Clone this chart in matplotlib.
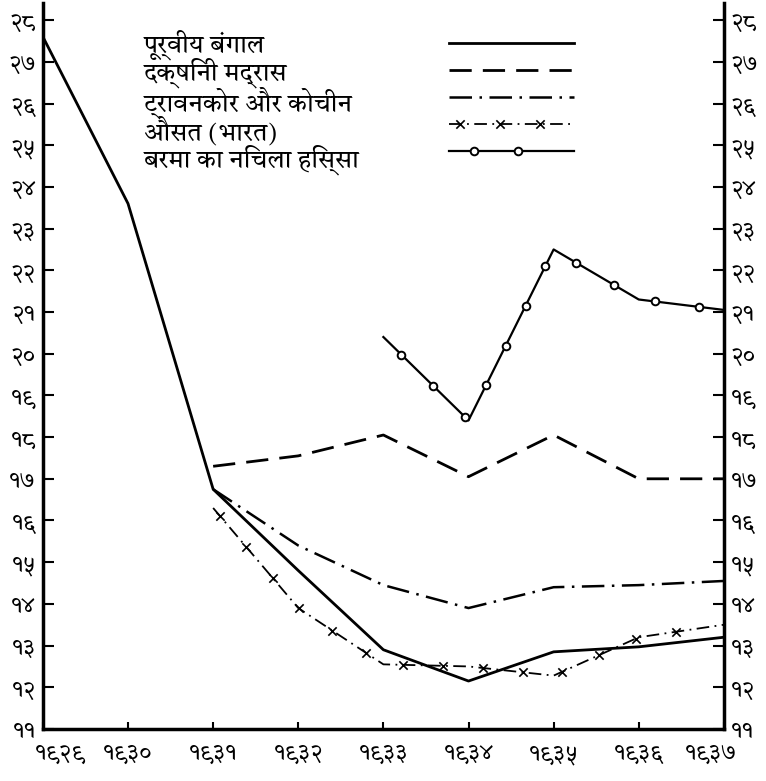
import matplotlib
matplotlib.use("Agg")
import numpy as np
import matplotlib.pyplot as plt
import matplotlib.patheffects as pe
from matplotlib.markers import MarkerStyle
from matplotlib.path import Path
from matplotlib.transforms import Affine2D, IdentityTransform, ScaledTranslation
import matplotlib.colors as mcolors

plt.rcParams['font.family'] = ['Tiro Devanagari Hindi', 'Noto Sans Devanagari', 'DejaVu Sans']

years = [1929, 1930, 1931, 1932, 1933, 1934, 1935, 1936, 1937]
year_labels = ['१९२९', '१९३०', '१९३१', '१९३२', '१९३३', '१९३४', '१९३५', '१९३६', '१९३७']
y_ticks = list(range(11, 29))
y_labels = ['११', '१२', '१३', '१४', '१५', '१६', '१७', '१८', '१९', '२०',
            '२१', '२२', '२३', '२४', '२५', '२६', '२७', '२८']

bengal = [27.6, 23.6, 16.75, 14.8, 12.9, 12.15, 12.85, 12.97, 13.2]
madras_years = [1931, 1932, 1933, 1934, 1935, 1936, 1937]
madras = [17.3, 17.55, 18.05, 17.05, 18.05, 17.0, 17.0]
trav_years = [1931, 1932, 1933, 1934, 1935, 1936, 1937]
travancore = [16.75, 15.4, 14.45, 13.9, 14.4, 14.45, 14.55]
avg_years = [1931, 1932, 1933, 1934, 1935, 1936, 1937]
average = [16.3, 13.9, 12.55, 12.5, 12.28, 13.2, 13.5]
burma_years = [1933, 1934, 1935, 1936, 1937]
burma = [20.4, 18.4, 22.5, 21.3, 21.05]

names = ['पूर्वीय बंगाल', 'दक्षिनी मद्रास', 'ट्रावनकोर और कोचीन', 'औसत (भारत)', 'बरमा का निचला हिस्सा']


class Beads(pe.AbstractPathEffect):
    # draws the line, then puts a marker every `step` points along it
    def __init__(self, marker, step, start, size, face=None, mew=1.3):
        super().__init__()
        self.marker = MarkerStyle(marker)
        self.step, self.start, self.size = step, start, size
        self.face = mcolors.to_rgb(face) if face else None
        self.mew = mew

    def draw_path(self, renderer, gc, tpath, affine, rgbFace):
        renderer.draw_path(gc, tpath, affine, rgbFace)
        v = affine.transform(tpath.vertices)
        seg = np.hypot(*np.diff(v, axis=0).T)
        cum = np.concatenate([[0], np.cumsum(seg)])
        px = renderer.points_to_pixels
        d = np.arange(px(self.start), cum[-1] - px(self.step) * 0.3, px(self.step))
        if len(d) == 0:
            return
        pts = np.column_stack([np.interp(d, cum, v[:, 0]), np.interp(d, cum, v[:, 1])])
        g = renderer.new_gc()
        g.copy_properties(gc)
        g.set_dashes(0, None)
        g.set_linewidth(self.mew)
        mt = self.marker.get_transform() + Affine2D().scale(px(self.size))
        renderer.draw_markers(g, self.marker.get_path(), mt, Path(pts),
                              IdentityTransform(), self.face)
        g.restore()


fig = plt.figure(figsize=(7.66, 7.81), dpi=100)
ax = fig.add_axes([0.056, 0.0666, 0.889, 0.929])

l1, = ax.plot(years, bengal, color='black', lw=2)
l2, = ax.plot(madras_years, madras, color='black', lw=2, dashes=(8, 4))
l3, = ax.plot(trav_years, travancore, color='black', lw=1.8, dashes=(9, 3, 1, 3))
l4, = ax.plot(avg_years, average, color='black', lw=1.3, dashes=(7, 3, 1, 3),
              path_effects=[Beads('x', 29, 8, 6, mew=1.2)])
l5, = ax.plot(burma_years, burma, color='black', lw=1.6,
              path_effects=[Beads('o', 32, 18, 5.5, face='white', mew=1.4)])
lines = [l1, l2, l3, l4, l5]

ax.set_xlim(1929, 1937)
ax.set_ylim(11, 28.4)
ax.set_xticks(years)
ax.set_xticklabels(year_labels, fontsize=17)
ax.set_yticks(y_ticks)
ax.set_yticklabels(y_labels, fontsize=17)
ax.tick_params(axis='y', direction='in', length=8, width=1.5, left=True, right=True,
               labelleft=True, labelright=True, pad=5)
ax.tick_params(axis='x', direction='in', length=5, width=1.5, pad=9)
ax.spines['top'].set_visible(False)
for s in ['left', 'right', 'bottom']:
    ax.spines[s].set_linewidth(2.5)

# end year labels sit a bit inwards, clear of the corner numbers
xl = ax.get_xticklabels()
xl[0].set_transform(xl[0].get_transform() + ScaledTranslation(0.17, 0, fig.dpi_scale_trans))
xl[-1].set_transform(xl[-1].get_transform() + ScaledTranslation(-0.13, 0, fig.dpi_scale_trans))

# legend: names on the left, line samples further right
leg1 = ax.legend(lines, names, loc='upper left', bbox_to_anchor=(0.115, 0.995),
                 frameon=False, handlelength=0, handletextpad=0,
                 prop={'size': 18}, labelspacing=-0.08)
for h in leg1.legend_handles:
    h.set_visible(False)
ax.add_artist(leg1)
ax.legend(lines, [''] * 5, loc='upper left', bbox_to_anchor=(0.563, 0.9905),
          frameon=False, handlelength=5.0, handletextpad=0,
          prop={'size': 18}, labelspacing=0.1)

fig.savefig('out.png', dpi=100)
